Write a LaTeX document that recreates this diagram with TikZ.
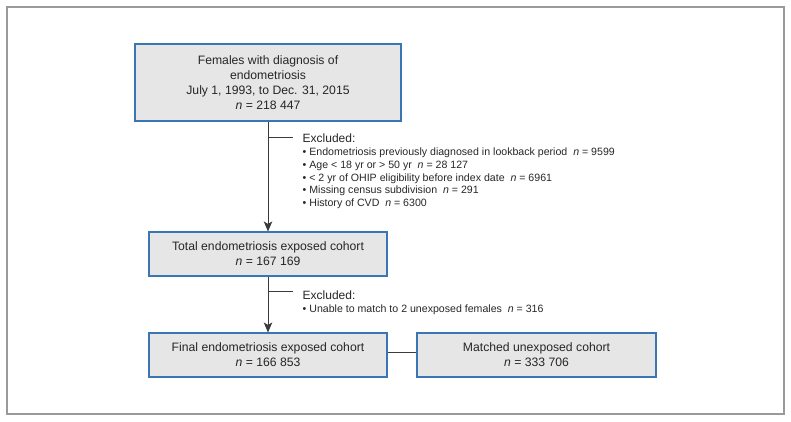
\documentclass[tikz,border=0pt]{standalone}
\usepackage{fontspec}
\setmainfont{Liberation Sans}
\usetikzlibrary{arrows.meta}
\definecolor{boxblue}{HTML}{3C76B2}
\definecolor{boxfill}{HTML}{E6E6E6}
\definecolor{framegray}{HTML}{9A9A9A}
\definecolor{linegray}{HTML}{3A3A3A}
\newcommand{\nn}{\textit{n}}
\begin{document}
\begin{tikzpicture}[x=1pt,y=1pt,
  cbox/.style={draw=boxblue,fill=boxfill,line width=1.1pt,inner sep=0pt,
    align=center,font=\fontsize{12.2}{14.8}\selectfont,text=black!85},
  conn/.style={draw=linegray,line width=0.8pt},
  arr/.style={conn,-{Stealth[length=10pt,width=8.5pt,inset=2.5pt]}},
  exhead/.style={anchor=base west,inner sep=0pt,font=\fontsize{12}{13}\selectfont,text=black!85},
  exitem/.style={anchor=base west,inner sep=0pt,font=\fontsize{10.6}{12}\selectfont,text=black!85}]
\useasboundingbox (0,0) rectangle (791,422);
\draw[framegray,line width=1.4pt] (7,8) rectangle (784,415);

\node[cbox,minimum width=266pt,minimum height=77pt] (b1) at (268,339.5)
  {Females with diagnosis of\\endometriosis\\July 1, 1993, to Dec. 31, 2015\\\nn{} = 218 447};
\node[cbox,minimum width=238pt,minimum height=44pt] (b2) at (268,168)
  {Total endometriosis exposed cohort\\\nn{} = 167 169};
\node[cbox,minimum width=238pt,minimum height=44pt] (b3) at (268,67)
  {Final endometriosis exposed cohort\\\nn{} = 166 853};
\node[cbox,minimum width=239pt,minimum height=44pt] (b4) at (536.5,67)
  {Matched unexposed cohort\\\nn{} = 333 706};

\draw[arr] (b1.south) -- (b2.north);
\draw[arr] (b2.south) -- (b3.north);
\draw[conn] ([yshift=3pt]b3.east) -- ([yshift=3pt]b4.west);

\coordinate (j1) at (268,284.5);
\coordinate (j1e) at (293,284.5);
\draw[conn] (j1) -- (j1e);
\coordinate (j2) at (268,130.3);
\coordinate (j2e) at (293,130.3);
\draw[conn] (j2) -- (j2e);

\node[exhead] (e1) at (302.5,279.7) {Excluded:};
\node[exitem] (e1a) at (302.5,266.3) {• Endometriosis previously diagnosed in lookback period\hspace{0.55em}\nn{} = 9599};
\node[exitem] (e1b) at (302.5,253.55) {• Age < 18 yr or > 50 yr\hspace{0.55em}\nn{} = 28 127};
\node[exitem] (e1c) at (302.5,240.8) {• < 2 yr of OHIP eligibility before index date\hspace{0.55em}\nn{} = 6961};
\node[exitem] (e1d) at (302.5,228.05) {• Missing census subdivision\hspace{0.55em}\nn{} = 291};
\node[exitem] (e1e) at (302.5,215.3) {• History of CVD\hspace{0.55em}\nn{} = 6300};

\node[exhead] (e2) at (302.5,122) {Excluded:};
\node[exitem] (e2a) at (302.5,109.3) {• Unable to match to 2 unexposed females\hspace{0.55em}\nn{} = 316};
\end{tikzpicture}
\end{document}
